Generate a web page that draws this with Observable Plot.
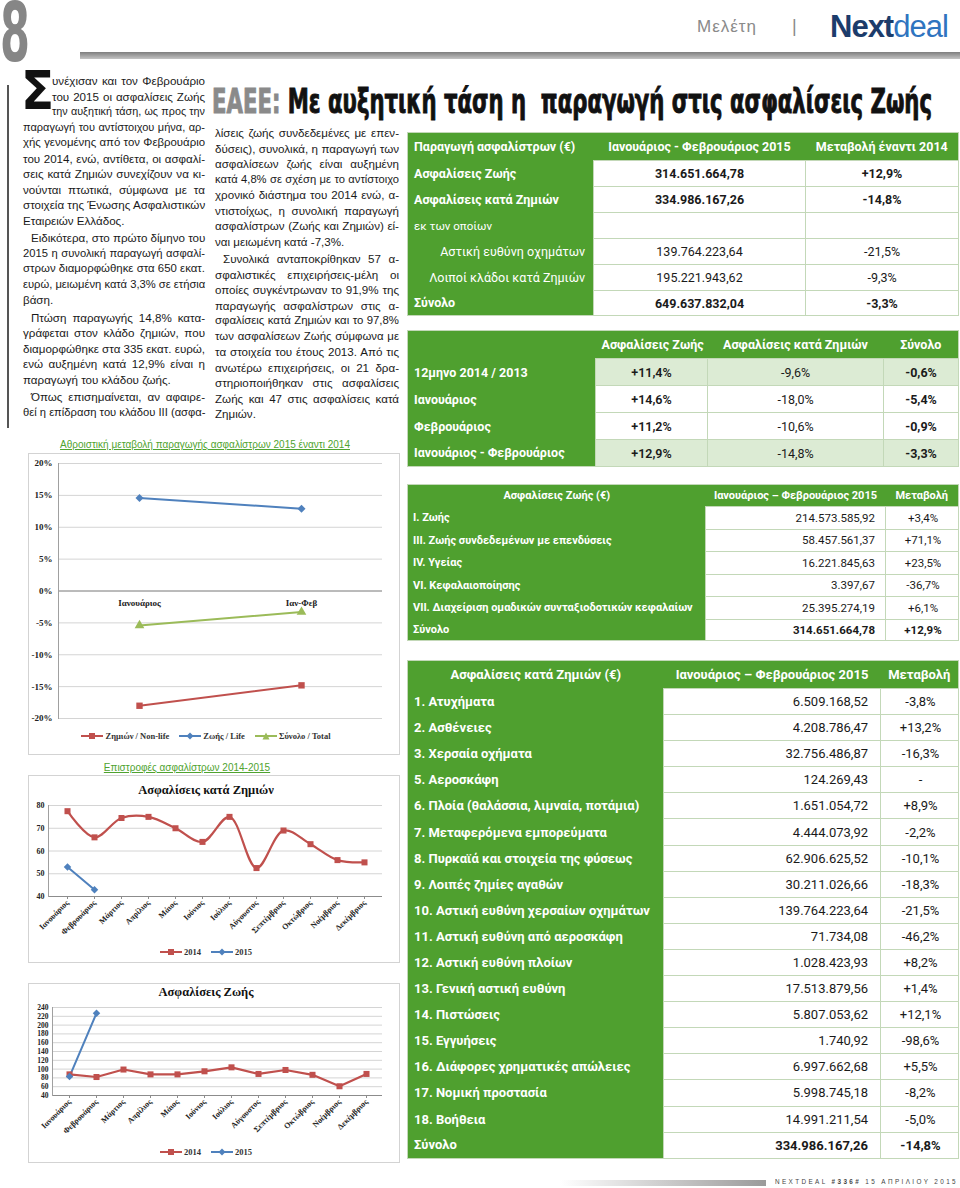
<!DOCTYPE html>
<html><head><meta charset="utf-8">
<script src="https://cdn.jsdelivr.net/npm/d3@7"></script>
<script src="https://cdn.jsdelivr.net/npm/@observablehq/plot@0.6"></script>
<style>
body{margin:0;background:#fff;}
#page{position:relative;width:960px;height:1188px;overflow:hidden;font-family:"Liberation Sans",Arial,sans-serif;background:#fff;}
.col{position:absolute;font-family:"Liberation Sans Narrow","Liberation Sans",sans-serif;font-size:11.6px;color:#1a1a1a;}
.ln{height:15.5px;line-height:15.5px;white-space:nowrap;text-align:justify;text-align-last:justify;overflow:visible;}
.ln.last{text-align-last:left;}
.tbl{position:absolute;border-collapse:collapse;table-layout:fixed;font-family:Roboto,"Liberation Sans",sans-serif;font-size:12.5px;}
.tbl td{padding:0 6px;white-space:nowrap;overflow:hidden;box-sizing:border-box;}
.cap{position:absolute;text-align:center;font-family:"Liberation Sans Narrow",sans-serif;font-size:10px;color:#4fa32f;text-decoration:underline;}
.box{position:absolute;border:1px solid #d3d3d3;box-sizing:border-box;}
.ctitle{position:absolute;text-align:center;font-family:"Liberation Serif",serif;font-weight:bold;font-size:12.5px;color:#111;}
.leg{position:absolute;display:flex;justify-content:center;align-items:center;gap:10px;font-family:"Liberation Serif",serif;font-weight:bold;font-size:8.5px;color:#333;}
.leg span{display:flex;align-items:center;gap:2px;}
</style></head>
<body><div id="page"></div>
<script>
// ---------- DATA ----------
const cumCategories = ["Ιανουάριος", "Ιαν-Φεβ"];
const cumSeries = ["Ζημιών / Non-life", "Ζωής / Life", "Σύνολο / Total"];
const cumNonLife = [-18.0, -14.8];
const cumLife = [14.6, 12.9];
const cumTotal = [-5.4, -3.3];
const cumTicks = [-20, -15, -10, -5, 0, 5, 10, 15, 20];

const months = ["Ιανουάριος","Φεβρουάριος","Μάρτιος","Απρίλιος","Μάιος","Ιούνιος","Ιούλιος","Αύγουστος","Σεπτέμβριος","Οκτώβριος","Νοέμβριος","Δεκέμβριος"];
const years = ["2014", "2015"];
const nonLife2014 = [77.5, 66, 74.5, 75, 70, 64, 75, 52.5, 69, 63, 56, 55];
const nonLife2015 = [53, 43];
const nonLifeTicks = [40, 50, 60, 70, 80];
const life2014 = [88, 82, 99, 88, 88, 95, 104, 89, 98, 87, 61, 89];
const life2015 = [83, 227];
const lifeTicks = [40, 60, 80, 100, 120, 140, 160, 180, 200, 220, 240];

const t1Header = ["Παραγωγή ασφαλίστρων (€)", "Ιανουάριος - Φεβρουάριος 2015", "Μεταβολή έναντι 2014"];
const t1Labels = ["Ασφαλίσεις Ζωής", "Ασφαλίσεις κατά Ζημιών", "εκ των οποίων", "Αστική ευθύνη οχημάτων", "Λοιποί κλάδοι κατά Ζημιών", "Σύνολο"];
const t1Values = ["314.651.664,78", "334.986.167,26", "", "139.764.223,64", "195.221.943,62", "649.637.832,04"];
const t1Changes = ["+12,9%", "-14,8%", "", "-21,5%", "-9,3%", "-3,3%"];

const t2Header = ["", "Ασφαλίσεις Ζωής", "Ασφαλίσεις κατά Ζημιών", "Σύνολο"];
const t2Periods = ["12μηνο 2014 / 2013", "Ιανουάριος", "Φεβρουάριος", "Ιανουάριος - Φεβρουάριος"];
const t2Life = ["+11,4%", "+14,6%", "+11,2%", "+12,9%"];
const t2NonLife = ["-9,6%", "-18,0%", "-10,6%", "-14,8%"];
const t2Total = ["-0,6%", "-5,4%", "-0,9%", "-3,3%"];

const t3Header = ["Ασφαλίσεις Ζωής (€)", "Ιανουάριος – Φεβρουάριος 2015", "Μεταβολή"];
const t3Classes = ["I. Ζωής", "III. Ζωής συνδεδεμένων με επενδύσεις", "IV. Υγείας", "VI. Κεφαλαιοποίησης", "VII. Διαχείριση ομαδικών συνταξιοδοτικών κεφαλαίων", "Σύνολο"];
const t3Values = ["214.573.585,92", "58.457.561,37", "16.221.845,63", "3.397,67", "25.395.274,19", "314.651.664,78"];
const t3Changes = ["+3,4%", "+71,1%", "+23,5%", "-36,7%", "+6,1%", "+12,9%"];

const t4Header = ["Ασφαλίσεις κατά Ζημιών (€)", "Ιανουάριος – Φεβρουάριος 2015", "Μεταβολή"];
const t4Classes = ["1. Ατυχήματα","2. Ασθένειες","3. Χερσαία οχήματα","5. Αεροσκάφη","6. Πλοία (θαλάσσια, λιμναία, ποτάμια)","7. Μεταφερόμενα εμπορεύματα","8. Πυρκαϊά και στοιχεία της φύσεως","9. Λοιπές ζημίες αγαθών","10. Αστική ευθύνη χερσαίων οχημάτων","11. Αστική ευθύνη από αεροσκάφη","12. Αστική ευθύνη πλοίων","13. Γενική αστική ευθύνη","14. Πιστώσεις","15. Εγγυήσεις","16. Διάφορες χρηματικές απώλειες","17. Νομική προστασία","18. Βοήθεια","Σύνολο"];
const t4Values = ["6.509.168,52","4.208.786,47","32.756.486,87","124.269,43","1.651.054,72","4.444.073,92","62.906.625,52","30.211.026,66","139.764.223,64","71.734,08","1.028.423,93","17.513.879,56","5.807.053,62","1.740,92","6.997.662,68","5.998.745,18","14.991.211,54","334.986.167,26"];
const t4Changes = ["-3,8%","+13,2%","-16,3%","-","+8,9%","-2,2%","-10,1%","-18,3%","-21,5%","-46,2%","+8,2%","+1,4%","+12,1%","-98,6%","+5,5%","-8,2%","-5,0%","-14,8%"];

const col1Paragraphs = [
  ["υνέχισαν και τον Φεβρουάριο","του 2015 οι ασφαλίσεις Ζωής","την αυξητική τάση, ως προς την","παραγωγή του αντίστοιχου μήνα, αρ-","χής γενομένης από τον Φεβρουάριο","του 2014, ενώ, αντίθετα, οι ασφαλί-","σεις κατά Ζημιών συνεχίζουν να κι-","νούνται πτωτικά, σύμφωνα με τα","στοιχεία της Ένωσης Ασφαλιστικών","Εταιρειών Ελλάδος."],
  ["Ειδικότερα, στο πρώτο δίμηνο του","2015 η συνολική παραγωγή ασφαλί-","στρων διαμορφώθηκε στα 650 εκατ.","ευρώ, μειωμένη κατά 3,3% σε ετήσια","βάση."],
  ["Πτώση παραγωγής 14,8% κατα-","γράφεται στον κλάδο ζημιών, που","διαμορφώθηκε στα 335 εκατ. ευρώ,","ενώ αυξημένη κατά 12,9% είναι η","παραγωγή του κλάδου ζωής."],
  ["Όπως επισημαίνεται, αν αφαιρε-","θεί η επίδραση του κλάδου ΙΙΙ (ασφα-"]
];
const col2Paragraphs = [
  ["λίσεις ζωής συνδεδεμένες με επεν-","δύσεις), συνολικά, η παραγωγή των","ασφαλίσεων ζωής είναι αυξημένη","κατά 4,8% σε σχέση με το αντίστοιχο","χρονικό διάστημα του 2014 ενώ, α-","ντιστοίχως, η συνολική παραγωγή","ασφαλίστρων (Ζωής και Ζημιών) εί-","ναι μειωμένη κατά -7,3%."],
  ["Συνολικά ανταποκρίθηκαν 57 α-","σφαλιστικές επιχειρήσεις-μέλη οι","οποίες συγκέντρωναν το 91,9% της","παραγωγής ασφαλίστρων στις α-","σφαλίσεις κατά Ζημιών και το 97,8%","των ασφαλίσεων Ζωής σύμφωνα με","τα στοιχεία του έτους 2013. Από τις","ανωτέρω επιχειρήσεις, οι 21 δρα-","στηριοποιήθηκαν στις ασφαλίσεις","Ζωής και 47 στις ασφαλίσεις κατά","Ζημιών."]
];

// ---------- PAGE ----------
const page = document.getElementById("page");
const G = "#4fa02f";
const LG = "#dcebd4";
const BR = "#c3d8b8";
function el(tag, css, html) {
  const e = document.createElement(tag);
  if (css) e.style.cssText = css;
  if (html != null) e.innerHTML = html;
  page.appendChild(e);
  return e;
}
function fitWidth(e, target) {
  const w = e.getBoundingClientRect().width;
  e.style.transformOrigin = "left top";
  e.style.transform = `scaleX(${target / w})`;
}

// header
const eight = el("div", "position:absolute;left:0;top:2px;font-family:'DejaVu Sans Condensed',sans-serif;font-weight:bold;font-size:82px;line-height:62px;height:62px;color:#868686;white-space:nowrap;display:inline-block;", "8");
fitWidth(eight, 30);
el("div", "position:absolute;left:80px;top:52px;width:880px;height:7px;background:linear-gradient(#7e7e7e,#c4c4c4);");
el("div", "position:absolute;left:697px;top:17px;font-family:'Liberation Sans',sans-serif;font-size:17px;letter-spacing:1px;color:#8a8a8a;white-space:nowrap;", "Μελέτη");
el("div", "position:absolute;left:792px;top:16px;font-family:'Liberation Sans',sans-serif;font-size:18px;color:#8a8a8a;", "|");
el("div", "position:absolute;left:830px;top:9px;font-family:'Liberation Sans',sans-serif;font-size:31px;letter-spacing:-1px;white-space:nowrap;", "<span style='font-weight:bold;color:#1c3c6b'>Next</span><span style='color:#2f74bf'>deal</span>");

// title
const title = el("div", "position:absolute;left:212px;top:84px;font-family:'DejaVu Sans Condensed',sans-serif;font-weight:bold;font-size:34px;line-height:34px;white-space:nowrap;display:inline-block;color:#111;-webkit-text-stroke:0.9px currentColor;", "<span style='color:#8a8a8a'>ΕΑΕΕ:</span> Με αυξητική τάση η&nbsp; παραγωγή στις ασφαλίσεις Ζωής");
fitWidth(title, 720);

// left rule
el("div", "position:absolute;left:7px;top:85px;width:1.5px;height:343px;background:#555;");

// text columns
function textColumn(paragraphs, left, top, width, dropCap, continues) {
  const c = el("div", `left:${left}px;top:${top}px;width:${width}px;`);
  c.className = "col";
  paragraphs.forEach((p, pi) => {
    p.forEach((t, li) => {
      const d = document.createElement("div");
      d.className = "ln";
      const isLast = li === p.length - 1 && !(continues && pi === paragraphs.length - 1);
      if (isLast) d.classList.add("last");
      d.textContent = t;
      if (dropCap && pi === 0 && li < 3) d.style.marginLeft = "29px";
      const continued = !dropCap && !continues && pi === 0;
      if (li === 0 && !(dropCap && pi === 0) && !continued) d.style.textIndent = "8px";
      if (li === 0 && pi > 0) d.style.marginTop = "2px";
      c.appendChild(d);
    });
  });
  c.querySelectorAll(".ln").forEach(d => {
    let fs = 11.6;
    while (d.scrollWidth > d.clientWidth + 0.5 && fs > 9) { fs -= 0.2; d.style.fontSize = fs + "px"; }
  });
  return c;
}
textColumn(col1Paragraphs, 23, 73, 182, true, true);
el("div", "position:absolute;left:21px;top:64px;font-family:'DejaVu Sans Condensed',sans-serif;font-weight:bold;font-size:54px;line-height:54px;color:#111;", "Σ");
textColumn(col2Paragraphs, 215, 125, 184, false, false);

// ---------- TABLES ----------
function makeTable(left, top, widths, heights, rows, styleFn) {
  const t = document.createElement("table");
  t.className = "tbl";
  const total = widths.reduce((a, b) => a + b, 0);
  t.style.left = left + "px"; t.style.top = top + "px"; t.style.width = total + "px";
  t.style.border = "1px solid " + BR;
  const cg = document.createElement("colgroup");
  widths.forEach(w => { const c = document.createElement("col"); c.style.width = w + "px"; cg.appendChild(c); });
  t.appendChild(cg);
  rows.forEach((row, r) => {
    const tr = t.insertRow();
    tr.style.height = heights[r] + "px";
    row.forEach((txt, c) => {
      const td = tr.insertCell();
      td.textContent = txt;
      td.style.height = heights[r] + "px";
      Object.assign(td.style, styleFn(r, c));
    });
  });
  page.appendChild(t);
  return t;
}
const greenCell = { background: G, color: "#fff", border: "none" };
const whiteCell = { background: "#fff", color: "#1a1a1a", border: "1px solid " + BR };

// table 1
{
  const rows = [t1Header].concat(t1Labels.map((l, i) => [l, t1Values[i], t1Changes[i]]));
  const heights = [28, 26, 26, 26, 26, 26, 25];
  makeTable(407, 132, [186, 212, 153], heights, rows, (r, c) => {
    if (r === 0) return Object.assign({}, greenCell, { fontWeight: "bold", textAlign: c === 0 ? "left" : "center" });
    const i = r - 1;
    const strong = i === 0 || i === 1 || i === 5;
    if (c === 0) return Object.assign({}, greenCell, { fontWeight: strong ? "bold" : "normal", textAlign: (i === 3 || i === 4) ? "right" : "left", paddingRight: "8px", fontSize: i === 2 ? "11.5px" : "12.5px" });
    return Object.assign({}, whiteCell, { fontWeight: strong ? "bold" : "normal", textAlign: "center" });
  });
}
// table 2
{
  const rows = [t2Header].concat(t2Periods.map((p, i) => [p, t2Life[i], t2NonLife[i], t2Total[i]]));
  const heights = [28, 27, 27, 27, 27];
  makeTable(407, 330, [188, 112, 176, 75], heights, rows, (r, c) => {
    if (r === 0) return Object.assign({}, greenCell, { fontWeight: "bold", textAlign: "center" });
    if (c === 0) return Object.assign({}, greenCell, { fontWeight: "bold", textAlign: "left" });
    const bg = (r === 1 || r === 4) ? LG : "#fff";
    return Object.assign({}, whiteCell, { background: bg, textAlign: "center", fontWeight: c === 1 ? "600" : c === 3 ? "bold" : "normal", borderLeft: c === 3 ? "1.5px solid #9fb894" : "1px solid " + BR });
  });
}
// table 3
{
  const rows = [t3Header].concat(t3Classes.map((l, i) => [l, t3Values[i], t3Changes[i]]));
  const heights = [22, 22.5, 22.5, 22.5, 22.5, 22.5, 21];
  makeTable(407, 484, [298, 180, 73], heights, rows, (r, c) => {
    const fs = "11px";
    if (r === 0) return Object.assign({}, greenCell, { fontWeight: "bold", textAlign: "center", fontSize: fs, padding: "0 3px" });
    if (c === 0) return Object.assign({}, greenCell, { fontWeight: "bold", textAlign: "left", fontSize: fs, paddingLeft: "5px" });
    const strong = r === 6;
    return Object.assign({}, whiteCell, { textAlign: c === 1 ? "right" : "center", paddingRight: c === 1 ? "10px" : "4px", fontWeight: strong ? "bold" : "normal", fontSize: "11.5px" });
  });
}
// table 4
{
  const rows = [t4Header].concat(t4Classes.map((l, i) => [l, t4Values[i], t4Changes[i]]));
  const heights = [28].concat(t4Classes.map(() => 26.1));
  makeTable(407, 660, [256, 217, 78], heights, rows, (r, c) => {
    if (r === 0) return Object.assign({}, greenCell, { fontWeight: "bold", textAlign: "center", fontSize: "13px" });
    if (c === 0) return Object.assign({}, greenCell, { fontWeight: "bold", textAlign: "left", fontSize: "13px" });
    const strong = r === rows.length - 1;
    return Object.assign({}, whiteCell, { textAlign: c === 1 ? "right" : "center", paddingRight: c === 1 ? "12px" : "4px", fontWeight: strong ? "bold" : "normal", fontSize: "13px" });
  });
}

// ---------- CHARTS ----------
const serif = "'Liberation Serif', 'Times New Roman', serif";
function legend(items, left, top, width) {
  const d = el("div", `left:${left}px;top:${top}px;width:${width}px;`);
  d.className = "leg";
  items.forEach(([label, color, shape]) => {
    let m = "";
    if (shape === "square") m = `<rect x="8" y="1" width="6" height="6" fill="${color}"/>`;
    if (shape === "diamond") m = `<polygon points="11,0.5 14.5,4 11,7.5 7.5,4" fill="${color}"/>`;
    if (shape === "triangle") m = `<polygon points="11,0.5 14.5,7.5 7.5,7.5" fill="${color}"/>`;
    const s = document.createElement("span");
    s.innerHTML = `<svg width="22" height="8"><line x1="0" x2="22" y1="4" y2="4" stroke="${color}" stroke-width="2"/>${m}</svg>${label}`;
    d.appendChild(s);
  });
}
function place(svg, left, top) {
  svg.style.position = "absolute";
  svg.style.left = left + "px";
  svg.style.top = top + "px";
  svg.style.background = "transparent";
  page.appendChild(svg);
}
const cRed = "#c0504d", cBlue = "#4f81bd", cGreen = "#9bbb59";

// Chart 1
el("div", "left:28px;top:439px;width:354px;", "Αθροιστική μεταβολή παραγωγής ασφαλίστρων 2015 έναντι 2014").className = "cap";
el("div", "left:28px;top:453px;width:372px;height:302px;").className = "box";
{
  const data = [];
  cumCategories.forEach((c, i) => {
    data.push({ cat: c, series: cumSeries[0], v: cumNonLife[i] });
    data.push({ cat: c, series: cumSeries[1], v: cumLife[i] });
    data.push({ cat: c, series: cumSeries[2], v: cumTotal[i] });
  });
  const svg = Plot.plot({
    width: 372, height: 300,
    marginTop: 11, marginBottom: 34, marginLeft: 30, marginRight: 18,
    style: { background: "transparent", fontFamily: serif, fontSize: "9px", fontWeight: "bold", color: "#222" },
    x: { type: "point", domain: cumCategories, padding: 0.5, axis: null },
    y: { domain: [-20, 20], axis: null },
    color: { domain: cumSeries, range: [cRed, cBlue, cGreen] },
    symbol: { domain: cumSeries, range: ["square", "diamond2", "triangle"] },
    marks: [
      Plot.gridY(cumTicks, { stroke: "#d4d4d4", strokeOpacity: 1 }),
      Plot.ruleY([0], { stroke: "#8c8c8c", strokeWidth: 1 }),
      Plot.frame({ anchor: "left", stroke: "#a0a0a0" }),
      Plot.axisY(cumTicks, { label: null, tickSize: 0, tickPadding: 6, tickFormat: d => d + "%", fontWeight: "bold", fontFamily: serif, fontSize: 9 }),
      Plot.text(cumCategories, { x: d => d, y: () => 0, dy: 12, fontWeight: "bold", fontFamily: serif, fontSize: 9, fill: "#222" }),
      Plot.line(data, { x: "cat", y: "v", z: "series", stroke: "series", strokeWidth: 2 }),
      Plot.dot(data, { x: "cat", y: "v", fill: "series", symbol: "series", r: 3.6, stroke: "none" })
    ]
  });
  place(svg, 28, 452);
  legend([[cumSeries[0], cRed, "square"], [cumSeries[1], cBlue, "diamond"], [cumSeries[2], cGreen, "triangle"]], 28, 731, 356);
}

// Chart 2
el("div", "left:28px;top:762px;width:318px;", "Επιστροφές ασφαλίστρων 2014-2015").className = "cap";
el("div", "left:28px;top:775px;width:372px;height:188px;").className = "box";
el("div", "left:28px;top:783px;width:356px;", "Ασφαλίσεις κατά Ζημιών").className = "ctitle";
function monthlyChart(v2014, v2015, ticks, domain, h, mt, mb, ml, curve) {
  const d14 = months.map((m, i) => ({ month: m, year: years[0], v: v2014[i] }));
  const d15 = v2015.map((v, i) => ({ month: months[i], year: years[1], v }));
  return Plot.plot({
    width: 372, height: h,
    marginTop: mt, marginBottom: mb, marginLeft: ml, marginRight: 18,
    style: { background: "transparent", fontFamily: serif, fontSize: "8px", fontWeight: "bold", color: "#222" },
    x: { type: "point", domain: months, padding: 0.5, axis: null },
    y: { domain, axis: null },
    color: { domain: years, range: [cRed, cBlue] },
    symbol: { domain: years, range: ["square", "diamond2"] },
    marks: [
      Plot.gridY(ticks, { stroke: "#d4d4d4", strokeOpacity: 1 }),
      Plot.ruleY([domain[0]], { stroke: "#8c8c8c" }),
      Plot.frame({ anchor: "left", stroke: "#a0a0a0" }),
      Plot.axisY(ticks, { label: null, tickSize: 0, tickPadding: 4, fontWeight: "bold", fontFamily: serif, fontSize: ticks.length > 6 ? 7.5 : 8 }),
      Plot.axisX({ label: null, tickSize: 3, tickRotate: -45, tickPadding: 2, fontWeight: "bold", fontFamily: serif, fontSize: 8, stroke: "#8c8c8c" }),
      Plot.line(d14, { x: "month", y: "v", stroke: "year", strokeWidth: 2.2, curve }),
      Plot.line(d15, { x: "month", y: "v", stroke: "year", strokeWidth: 2 }),
      Plot.dot(d14.concat(d15), { x: "month", y: "v", fill: "year", symbol: "year", r: 3.4, stroke: "none" })
    ]
  });
}
place(monthlyChart(nonLife2014, nonLife2015, nonLifeTicks, [40, 80], 143, 8, 44, 20, "catmull-rom"), 28, 797);
legend([[years[0], cRed, "square"], [years[1], cBlue, "diamond"]], 28, 947, 356);

// Chart 3
el("div", "left:28px;top:983px;width:372px;height:180px;").className = "box";
el("div", "left:28px;top:985px;width:356px;", "Ασφαλίσεις Ζωής").className = "ctitle";
place(monthlyChart(life2014, life2015, lifeTicks, [40, 240], 142, 7, 47, 24, "linear"), 28, 1000);
legend([[years[0], cRed, "square"], [years[1], cBlue, "diamond"]], 28, 1147, 356);

// footer
el("div", "position:absolute;left:560px;top:1180px;width:206px;height:6px;background:linear-gradient(90deg,#ffffff,#9a9a9a);");
const foot = el("div", "position:absolute;left:775px;top:1177px;font-family:'Liberation Sans',sans-serif;font-size:8px;letter-spacing:3px;color:#444;white-space:nowrap;display:inline-block;", "NEXTDEAL <b>#336#</b> 15 ΑΠΡΙΛΙΟΥ 2015");
fitWidth(foot, 183);
</script>
</body></html>
